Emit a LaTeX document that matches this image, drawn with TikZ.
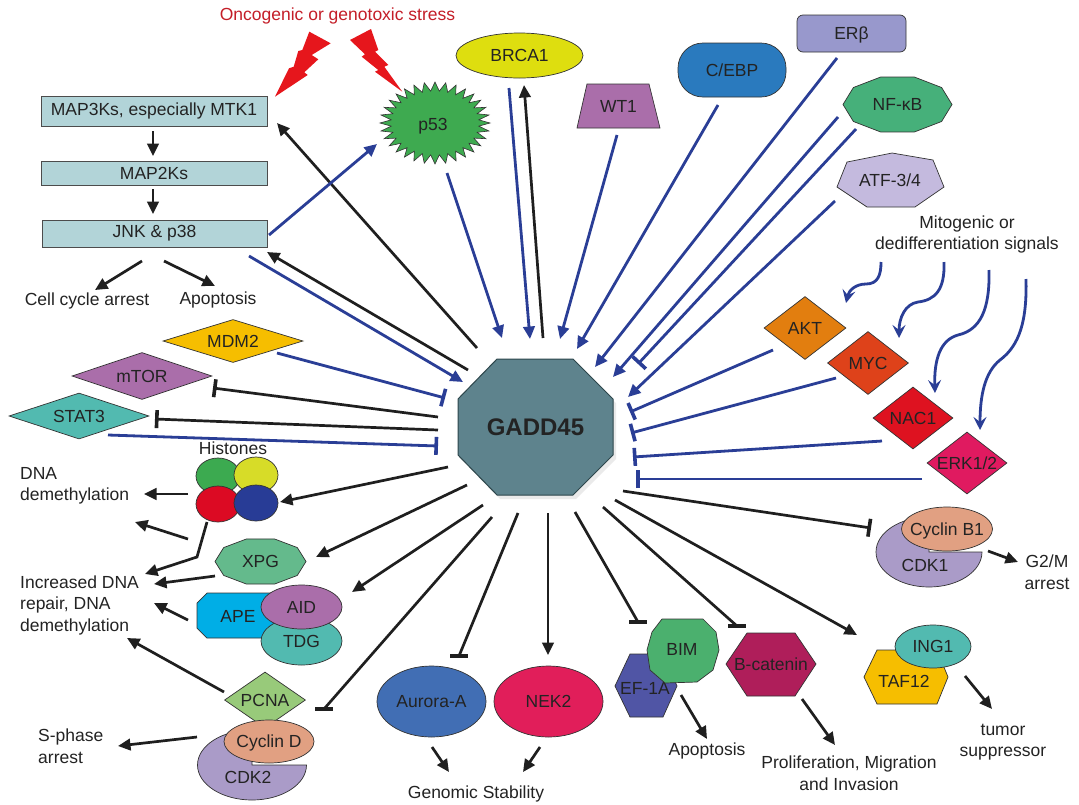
\documentclass[tikz,border=0pt]{standalone}
\usepackage{fontspec}
\setmainfont{Liberation Sans}
\usetikzlibrary{arrows.meta,shapes.geometric}
\definecolor{txtc}{RGB}{35,35,35}
\definecolor{linec}{RGB}{42,62,150}
\definecolor{titlec}{RGB}{196,30,40}
\definecolor{boltc}{RGB}{230,22,28}
\definecolor{boxc}{RGB}{178,212,216}
\definecolor{gaddc}{RGB}{94,131,141}
\definecolor{gaddb}{RGB}{45,70,75}
\definecolor{p53c}{RGB}{62,170,80}
\definecolor{brcac}{RGB}{222,222,15}
\definecolor{purpc}{RGB}{170,110,170}
\definecolor{cebpc}{RGB}{42,122,190}
\definecolor{erbc}{RGB}{152,152,204}
\definecolor{nfkbc}{RGB}{70,176,122}
\definecolor{atfc}{RGB}{196,186,222}
\definecolor{aktc}{RGB}{226,126,15}
\definecolor{mycc}{RGB}{222,66,26}
\definecolor{nacc}{RGB}{222,18,32}
\definecolor{erkc}{RGB}{224,26,96}
\definecolor{cycc}{RGB}{225,160,130}
\definecolor{cdkc}{RGB}{170,155,200}
\definecolor{tealc}{RGB}{82,186,176}
\definecolor{yelc}{RGB}{246,190,0}
\definecolor{bcatc}{RGB}{175,30,90}
\definecolor{bimc}{RGB}{75,176,110}
\definecolor{efc}{RGB}{80,85,165}
\definecolor{aurc}{RGB}{65,110,180}
\definecolor{nekc}{RGB}{225,30,90}
\definecolor{pcnac}{RGB}{152,202,122}
\definecolor{apec}{RGB}{0,174,230}
\definecolor{xpgc}{RGB}{100,186,140}
\definecolor{hgreen}{RGB}{60,170,80}
\definecolor{hyellow}{RGB}{215,220,40}
\definecolor{hred}{RGB}{220,10,35}
\definecolor{hblue}{RGB}{40,60,150}
\newcommand\ctext[1]{\smash{\raisebox{-0.36em}{\makebox[0pt]{#1}}}}
\begin{document}
\begin{tikzpicture}[x=1pt,y=-1pt,
  every node/.style={font=\fontsize{17.5}{21.5}\selectfont, text=txtc, inner sep=0pt},
  bl/.style={draw=linec, line width=2.8pt},
  bk/.style={draw=black!88, line width=2.7pt},
  arr/.style={-{Triangle[length=12.5pt,width=11.5pt]}},
  inh/.style={-{Bar[width=18pt,line width=3.6pt]}},
  wav/.style={-{Stealth[length=13pt,width=13pt,inset=5pt]}},
  shp/.style={draw=black!80, line width=0.7pt},
  ell/.style={ellipse, shp},
  dia/.style={diamond, shp},
  box/.style={rectangle, draw=black!70, line width=1pt, fill=boxc},
  hbar/.style={draw=black!88, line width=3.8pt}
]
\fill[white] (0,0) rectangle (1079,804);
\useasboundingbox (0,0) rectangle (1079,804);

% title and bolts
\node[text=titlec] (title) at (337.5,16) {Oncogenic or genotoxic stress};
\fill[boltc] (309.3,31.7)--(330.7,43.3)--(311.7,55)--(318.3,59.3)--(304.3,72.3)--(307.7,75)--(275,96.7)--(289,68.3)--(293.7,66.7)--(298.3,51)--(302.3,50)--cycle;
\fill[boltc] (350,40)--(371,29)--(378.3,50)--(375,51.7)--(388.3,65)--(384.3,66.7)--(402.3,91.7)--(375,71.7)--(378.3,70)--(361.7,56.7)--(365,54.3)--cycle;

% MAPK boxes
\node[box, minimum width=226pt, minimum height=30pt] (map3) at (154,111) {MAP3Ks, especially MTK1};
\node[box, minimum width=226pt, minimum height=24pt] (map2) at (154,173) {MAP2Ks};
\node[box, minimum width=225pt, minimum height=27pt] (jnk) at (154.5,233.5) {JNK \& p38};
\node (cca) at (87,301) {Cell cycle arrest};
\node (apo1) at (218,300) {Apoptosis};

% p53
\begin{scope}[shift={(435,123)}]
\path[fill=p53c, draw=black!80, line width=0.6pt] (0:55 and 41) \foreach \k in {0,...,31}{ -- ({\k*11.25}:55 and 41) -- ({\k*11.25+5.625}:44 and 32)} -- cycle;
\end{scope}
\node (p53) at (433,124) {\ctext{p53}};

% top nodes
\node[ell, fill=brcac, minimum width=127pt, minimum height=45pt] (brca) at (519.5,55.5) {\ctext{BRCA1}};
\path[shp, fill=purpc] (587,84)--(649,84)--(660,128)--(577,128)--cycle;
\node (wt1) at (618.5,106) {\ctext{WT1}};
\node[rectangle, rounded corners=25pt, shp, fill=cebpc, minimum width=108pt, minimum height=54pt] (cebp) at (732,70) {\ctext{C/EBP}};
\node[rectangle, rounded corners=6pt, shp, fill=erbc, minimum width=109pt, minimum height=37pt] (erb) at (851.5,33.5) {\ctext{ERβ}};
\begin{scope}[shift={(897.5,104.5)}]
\path[shp, fill=nfkbc] (0:54.5 and 28.9) \foreach \k in {1,...,9}{ -- ({\k*36}:54.5 and 28.9)} -- cycle;
\end{scope}
\node (nfkb) at (897.5,104.5) {\ctext{NF-κB}};
\path[shp, fill=atfc] (892,153)--(933,160)--(944,187)--(915,207)--(867,207)--(837,187)--(847,162)--cycle;
\node (atf) at (890,180) {\ctext{ATF-3/4}};
\node[align=center] (mito) at (967,234.5) {Mitogenic or\\dedifferentiation signals};

% right diamonds
\node[dia, fill=aktc, minimum width=82pt, minimum height=63pt] (akt) at (805,328) {\ctext{AKT}};
\node[dia, fill=mycc, minimum width=81pt, minimum height=63pt] (myc) at (868,363) {\ctext{MYC}};
\node[dia, fill=nacc, minimum width=80pt, minimum height=62pt] (nac) at (913,418) {\ctext{NAC1}};
\node[dia, fill=erkc, minimum width=80pt, minimum height=62pt] (erk) at (967,463) {\ctext{ERK1/2}};

% Cyclin B1 / CDK1
\path[shp, fill=cdkc] (929,552) -- (982,552) arc[start angle=0, end angle=-270, x radius=53pt, y radius=35pt] -- cycle;
\node (cdk1) at (925,565) {\ctext{CDK1}};
\node[ell, fill=cycc, minimum width=91pt, minimum height=44pt] (cycb) at (947,529) {\ctext{Cyclin B1}};
\node[align=center] (g2m) at (1047,572) {G2/M\\arrest};

% TAF12 / ING1
\path[shp, fill=yelc] (864,677)--(877,650)--(937,650)--(948,677)--(937,704)--(877,704)--cycle;
\node (taf) at (904,681) {\ctext{TAF12}};
\node[ell, fill=tealc, minimum width=76pt, minimum height=43pt] (ing) at (933,646.5) {\ctext{ING1}};
\node[align=center] (tum) at (1003,742) {tumor\\suppressor};

% B-catenin
\path[shp, fill=bcatc] (726,664)--(747,633)--(795,633)--(816,664)--(795,696)--(747,696)--cycle;
\node (bcat) at (771,664) {\ctext{B-catenin}};
\node[align=center] (prol) at (849,773) {Proliferation, Migration\\and Invasion};

% EF-1A / BIM
\path[shp, fill=efc] (630,654)--(663,654)--(677,686)--(663,717)--(630,717)--(615,686)--cycle;
\node (ef) at (645,688) {\ctext{EF-1A}};
\path[shp, fill=bimc] (662,619)--(703,619)--(716,632)--(719,650)--(713,670)--(697,682)--(665,683)--(650,670)--(647,650)--(652,632)--cycle;
\node (bim) at (682,649) {\ctext{BIM}};
\node (apo2) at (707,751) {Apoptosis};

% Aurora-A / NEK2
\node[ell, fill=aurc, minimum width=109pt, minimum height=71pt] (aur) at (431.5,701.5) {\ctext{Aurora-A}};
\node[ell, fill=nekc, minimum width=109pt, minimum height=71pt] (nek) at (548.5,701.5) {\ctext{NEK2}};
\node (gen) at (476,794) {Genomic Stability};

% PCNA / Cyclin D / CDK2
\node[dia, fill=pcnac, minimum width=81pt, minimum height=56pt] (pcna) at (265,700) {\ctext{PCNA}};
\path[shp, fill=cdkc] (252,765) -- (306.5,765) arc[start angle=0, end angle=-270, x radius=54.5pt, y radius=35pt] -- cycle;
\node (cdk2) at (248,777) {\ctext{CDK2}};
\node[ell, fill=cycc, minimum width=90pt, minimum height=43pt] (cycd) at (269,741.5) {\ctext{Cyclin D}};
\node[anchor=west, align=left] (sph) at (38,746) {S-phase\\arrest};

% APE / TDG / AID
\path[shp, fill=apec] (207,593)--(285,593)--(292,601)--(292,630)--(285,638)--(207,638)--(197,628)--(197,603)--cycle;
\node (ape) at (238,616) {\ctext{APE}};
\node[ell, fill=tealc, minimum width=81pt, minimum height=48pt] (tdg) at (301.5,641) {\ctext{TDG}};
\node[ell, fill=purpc, minimum width=81pt, minimum height=44pt] (aid) at (301.5,607) {\ctext{AID}};

% XPG
\begin{scope}[shift={(260.5,561.5)}]
\path[shp, fill=xpgc] (0:45.5 and 23.7) \foreach \k in {1,...,9}{ -- ({\k*36}:45.5 and 23.7)} -- cycle;
\end{scope}
\node (xpg) at (260.5,561.5) {\ctext{XPG}};

% Histones
\node (histl) at (233,448) {Histones};
\node[ell, fill=hgreen, minimum width=44pt, minimum height=36pt] (h1) at (218,476) {};
\node[ell, fill=hyellow, minimum width=44pt, minimum height=36pt] (h2) at (256,475) {};
\node[ell, fill=hred, minimum width=44pt, minimum height=36pt] (h3) at (218,504) {};
\node[ell, fill=hblue, minimum width=44pt, minimum height=36pt] (h4) at (256,503) {};
\node[anchor=west, align=left] (dnad) at (20,486) {DNA\\demethylation};
\node[anchor=west, align=left] (idna) at (20,605) {Increased DNA\\repair, DNA\\demethylation};

% left diamonds
\node[dia, fill=yelc, minimum width=140pt, minimum height=43pt] (mdm2) at (233,341) {\ctext{MDM2}};
\node[dia, fill=purpc, minimum width=140pt, minimum height=47pt] (mtor) at (142,376) {\ctext{mTOR}};
\node[dia, fill=tealc, minimum width=140pt, minimum height=46pt] (stat3) at (79,416) {\ctext{STAT3}};

% GADD45
\fill[black!20, opacity=0.4] (500,363)--(576,363)--(616,403)--(616,459)--(576,499)--(500,499)--(461,459)--(461,403)--cycle;
\path[fill=gaddc, draw=gaddb, line width=1pt] (497,359)--(573,359)--(613,399)--(613,455)--(573,495)--(497,495)--(458,455)--(458,399)--cycle;
\node (gadd) at (535.5,427) {\fontsize{24}{28}\selectfont\bfseries GADD45};

% ---------- connectors ----------
% MAPK cascade
\draw[bk,arr] ([shift={(-1,20)}]map3.center) -- ([shift={(-1,-17)}]map2.center);
\draw[bk,arr] ([shift={(-1,16)}]map2.center) -- ([shift={(-1.5,-19.5)}]jnk.center);
\draw[bk,arr] ([shift={(-12.5,27.5)}]jnk.center) -- ([shift={(8,-11)}]cca.center);
\draw[bk,arr] ([shift={(9.5,27.5)}]jnk.center) -- ([shift={(-3,-14)}]apo1.center);
\draw[bk,arr] ([shift={(-58.5,-79)}]gadd.center) -- ([shift={(123,12)}]map3.center);
\draw[bl,arr] ([shift={(94.5,22.5)}]jnk.center) -- ([shift={(-72.5,-45)}]gadd.center);
\draw[bk,arr] ([shift={(-67.5,-57)}]gadd.center) -- ([shift={(112.5,18.5)}]jnk.center);
\draw[bl,arr] ([shift={(114.5,1.5)}]jnk.center) -- ([shift={(-56,20)}]p53.center);

% top inputs
\draw[bl,arr] ([shift={(14,49)}]p53.center) -- ([shift={(-33.5,-89)}]gadd.center);
\draw[bl,arr] ([shift={(-10.5,32.5)}]brca.center) -- ([shift={(-5.5,-88)}]gadd.center);
\draw[bk,arr] ([shift={(7.5,-89)}]gadd.center) -- ([shift={(4.5,29.5)}]brca.center);
\draw[bl,arr] ([shift={(-1.5,29)}]wt1.center) -- ([shift={(24.5,-88)}]gadd.center);
\draw[bl,arr] ([shift={(-14,35)}]cebp.center) -- ([shift={(41.5,-78)}]gadd.center);
\draw[bl,arr] ([shift={(-14.5,24.5)}]erb.center) -- ([shift={(59.5,-60)}]gadd.center);
\draw[bl,arr] ([shift={(-59.5,12.5)}]nfkb.center) -- ([shift={(77.5,-50)}]gadd.center);
\draw[bl,inh] ([shift={(-41.5,24.5)}]nfkb.center) -- ([shift={(102.5,-63)}]gadd.center);
\draw[bl,arr] ([shift={(-55,21)}]atf.center) -- ([shift={(92.5,-30)}]gadd.center);

% mitogenic signals
\draw[bl,wav] ([shift={(-86,27.5)}]mito.center) .. controls (881,275) and (878,284) .. (866,284) .. controls (856,284) and (849,290) .. ([shift={(41,-25)}]akt.center);
\draw[bl,wav] ([shift={(-23,27.5)}]mito.center) .. controls (945,290) and (935,300) .. (918,302) .. controls (905,304) and (899,318) .. ([shift={(31,-25)}]myc.center);
\draw[bl,wav] ([shift={(22,35.5)}]mito.center) .. controls (990,310) and (980,330) .. (958,335) .. controls (940,340) and (934,360) .. ([shift={(22,-25)}]nac.center);
\draw[bl,wav] ([shift={(59,44.5)}]mito.center) .. controls (1027,320) and (1020,345) .. (1000,360) .. controls (985,372) and (980,395) .. ([shift={(13,-33)}]erk.center);

% right inhibitors
\draw[bl,inh] ([shift={(-32,22)}]akt.center) -- ([shift={(94.5,-15)}]gadd.center);
\draw[bl,inh] ([shift={(-32,15)}]myc.center) -- ([shift={(95.5,6)}]gadd.center);
\draw[bl,inh] ([shift={(-31,23)}]nac.center) -- ([shift={(97.5,30)}]gadd.center);
\draw[bl,inh] ([shift={(-45,16)}]erk.center) -- ([shift={(100.5,52)}]gadd.center);

% outputs right / bottom
\draw[bk,inh] ([shift={(87.5,64)}]gadd.center) -- ([shift={(-76,-1)}]cycb.center);
\draw[bk,arr] ([shift={(79.5,73)}]gadd.center) -- ([shift={(-47,-46)}]taf.center);
\coordinate (bcT) at ([shift={(-34,-38)}]bcat.center);
\draw[bk] ([shift={(67.5,80)}]gadd.center) -- (bcT);
\draw[hbar] ([xshift=-9pt]bcT) -- ([xshift=9pt]bcT);
\coordinate (bimT) at ([shift={(-44,-27)}]bim.center);
\draw[bk] ([shift={(39.5,85)}]gadd.center) -- (bimT);
\draw[hbar] ([xshift=-9pt]bimT) -- ([xshift=9pt]bimT);
\draw[bk,arr] ([shift={(12.5,86)}]gadd.center) -- ([shift={(-0.5,-46.5)}]nek.center);
\coordinate (aurT) at ([shift={(27.5,-45.5)}]aur.center);
\draw[bk] ([shift={(-17.5,86)}]gadd.center) -- (aurT);
\draw[hbar] ([xshift=-9pt]aurT) -- ([xshift=9pt]aurT);
\coordinate (pcnaT) at ([shift={(59,9)}]pcna.center);
\draw[bk] ([shift={(-43.5,90)}]gadd.center) -- (pcnaT);
\draw[hbar] ([xshift=-9pt]pcnaT) -- ([xshift=9pt]pcnaT);
\draw[bk,arr] ([shift={(-52.5,78)}]gadd.center) -- ([shift={(50.5,-15)}]aid.center);
\draw[bk,arr] ([shift={(-68.5,58)}]gadd.center) -- ([shift={(55.5,-4.5)}]xpg.center);
\draw[bk,arr] ([shift={(-87.5,40)}]gadd.center) -- ([shift={(24,-1)}]h4.center);

% left inhibitors
\draw[bl,inh] ([shift={(29,19)}]stat3.center) -- ([shift={(-97.5,19)}]gadd.center);
\draw[bk,inh] ([shift={(-97.5,3)}]gadd.center) -- ([shift={(76,3)}]stat3.center);
\draw[bk,inh] ([shift={(-97.5,-10)}]gadd.center) -- ([shift={(71,12)}]mtor.center);
\draw[bl,inh] ([shift={(44,12)}]mdm2.center) -- ([shift={(-90.5,-29)}]gadd.center);

% downstream effects
\draw[bk,arr] ([shift={(-30,-10)}]h3.center) -- ([shift={(124,8)}]dnad.west);
\draw[bk,arr] ([shift={(-30,35)}]h3.center) -- ([shift={(115,36)}]dnad.west);
\draw[bk,arr] ([shift={(-11,18)}]h3.center) -- ++(-10,35) -- ([shift={(125,-31)}]idna.west);
\draw[bk,arr] ([shift={(-45.5,14.5)}]xpg.center) -- ([shift={(134,-21)}]idna.west);
\draw[bk,arr] ([shift={(-50,4)}]ape.center) -- ([shift={(134,-2)}]idna.west);
\draw[bk,arr] ([shift={(-41,-8)}]pcna.center) -- ([shift={(107,33)}]idna.west);
\draw[bk,arr] ([shift={(-51,-40)}]cdk2.center) -- ([shift={(80,0)}]sph.west);
\draw[bk,arr] ([shift={(63,-14)}]cdk1.center) -- ([shift={(-29,-10)}]g2m.center);
\draw[bk,arr] ([shift={(32,29.5)}]ing.center) -- ([shift={(-11,-33)}]tum.center);
\draw[bk,arr] ([shift={(31,35)}]bcat.center) -- ([shift={(-14,-28)}]prol.center);
\draw[bk,arr] ([shift={(-1,46)}]bim.center) -- ([shift={(0,-12)}]apo2.center);
\draw[bk,arr] ([shift={(0.5,45.5)}]aur.center) -- ([shift={(-27,-22)}]gen.center);
\draw[bk,arr] ([shift={(-8.5,45.5)}]nek.center) -- ([shift={(47,-22)}]gen.center);
\end{tikzpicture}
\end{document}
